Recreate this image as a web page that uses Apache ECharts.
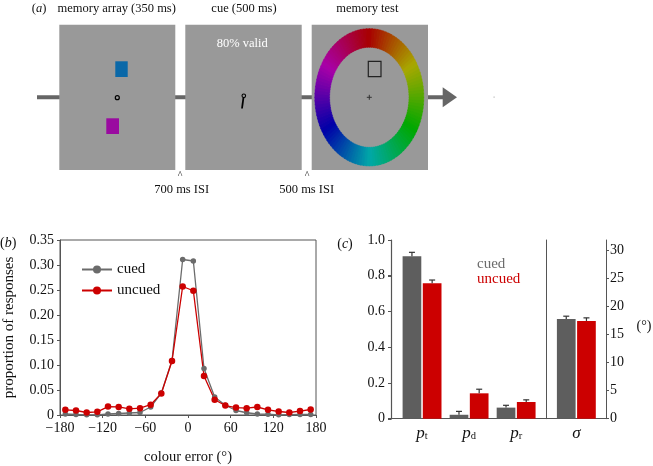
<!DOCTYPE html>
<html><head><meta charset="utf-8">
<script src="https://cdn.jsdelivr.net/npm/echarts@6/dist/echarts.min.js"></script>
<style>html,body{margin:0;padding:0;background:#fff}#c{width:653px;height:466px}</style>
</head><body><div id="c"></div><script>
const FONT = "'Liberation Serif','Times New Roman',serif";

// ---- panel (b) data ----
const binCenters = [-172.5,-157.5,-142.5,-127.5,-112.5,-97.5,-82.5,-67.5,-52.5,-37.5,-22.5,-7.5,
                     7.5,22.5,37.5,52.5,67.5,82.5,97.5,112.5,127.5,142.5,157.5,172.5];
const cuedProp   = [0.002,0.001,0.0003,0.0003,0.002,0.003,0.004,0.005,0.016,0.044,0.109,0.311,
                    0.308,0.093,0.036,0.0195,0.009,0.0045,0.002,0.0015,0.0003,0.0008,0.001,0.001];
const uncuedProp = [0.0103,0.009,0.005,0.0064,0.0168,0.0162,0.0123,0.0137,0.0207,0.043,0.108,0.257,
                    0.2485,0.078,0.0306,0.0189,0.0149,0.0137,0.016,0.0103,0.007,0.005,0.0078,0.011];
const bXTicks = [-180,-120,-60,0,60,120,180];
const bYTicks = [0,0.05,0.1,0.15,0.2,0.25,0.3,0.35];

// ---- panel (c) data ----
const paramSubs = ['t','d','r'];
const cuedParam = [0.909,0.022,0.062];
const cuedParamErr = [0.022,0.019,0.013];
const uncuedParam = [0.758,0.142,0.0935];
const uncuedParamErr = [0.018,0.023,0.012];
const sigmaCats = ['σ'];
const cuedSigma = [17.8];
const cuedSigmaErr = [0.5];
const uncuedSigma = [17.45];
const uncuedSigmaErr = [0.55];
const leftTicks = [0,0.2,0.4,0.6,0.8,1.0];
const rightTicks = [0,5,10,15,20,25,30];

const GRAY = '#6b6b6b', RED = '#cc0000', BARGRAY = '#5e5e5e', AX = '#555';
const BW = 18.7, OFF = 10.1;
const X_MIN_C = -0.66, X_MAX_C = 2.65;

function errRender(off){
  return function(params, api){
    const x = api.value(0), v = api.value(1), e = api.value(2);
    const p0 = api.coord([x, v]); const p1 = api.coord([x, v + e]);
    const cx = p0[0] + off;
    return {type:'group', children:[
      {type:'line', shape:{x1:cx,y1:p0[1],x2:cx,y2:p1[1]}, style:{stroke:'#333',lineWidth:1.2}},
      {type:'line', shape:{x1:cx-3,y1:p1[1],x2:cx+3,y2:p1[1]}, style:{stroke:'#333',lineWidth:1.2}}
    ]};
  };
}

// ---- panel (a) schematic ----
const wheel = [];
const N = 120;
for (let k = 0; k < N; k++) {
  const h = k * 360 / N;
  const a0 = -Math.PI/2 + (h - 0.3) * Math.PI/180;
  const a1 = -Math.PI/2 + (h + 360/N + 0.3) * Math.PI/180;
  const col = 'hsl(' + (h + 180/N) + ',100%,33%)';
  wheel.push({type:'sector', shape:{cx:0,cy:0,r:54.5,r0:39.7,startAngle:a0,endAngle:a1,clockwise:true},
    style:{fill:col, stroke:col, lineWidth:0.4}});
}
const tA = {font:'12.5px ' + FONT, fill:'#111', align:'center', verticalAlign:'middle'};
function txt(text, x, y, extra){ return {type:'text', x:x, y:y, style:Object.assign({text:text}, tA, extra||{})}; }

const graphic = [
  {type:'line', shape:{x1:37,y1:97.3,x2:444,y2:97.3}, style:{stroke:'#666',lineWidth:4}},
  {type:'polygon', shape:{points:[[442.7,87.3],[457,97.3],[442.7,107.3]]}, style:{fill:'#666'}},
  {type:'rect', shape:{x:59.3,y:24.7,width:116,height:145.3}, style:{fill:'#999999'}},
  {type:'rect', shape:{x:185.3,y:24.7,width:116.4,height:145.3}, style:{fill:'#999999'}},
  {type:'rect', shape:{x:311.7,y:24.7,width:116.3,height:145.3}, style:{fill:'#999999'}},
  {type:'rect', shape:{x:115.3,y:61.3,width:12.4,height:15.7}, style:{fill:'#0a68a8'}},
  {type:'rect', shape:{x:106.3,y:118.3,width:12.7,height:15.7}, style:{fill:'#9a0aa0'}},
  {type:'circle', shape:{cx:117.3,cy:97.7,r:2}, style:{fill:'none',stroke:'#000',lineWidth:1.2}},
  {type:'circle', shape:{cx:243.8,cy:95.8,r:1.8}, style:{fill:'none',stroke:'#000',lineWidth:1.1}},
  {type:'line', shape:{x1:243.4,y1:98,x2:242,y2:108.5}, style:{stroke:'#000',lineWidth:1.8}},
  {type:'group', x:369.3, y:97.3, scaleY:1.26, children:wheel},
  {type:'rect', shape:{x:368.3,y:61.3,width:12.7,height:15.3}, style:{fill:'none',stroke:'#222',lineWidth:1.2}},
  {type:'line', shape:{x1:366.8,y1:97.3,x2:371.8,y2:97.3}, style:{stroke:'#333',lineWidth:1}},
  {type:'line', shape:{x1:369.3,y1:94.8,x2:369.3,y2:99.8}, style:{stroke:'#333',lineWidth:1}},
  {type:'rect', shape:{x:493.5,y:96.5,width:1.2,height:1.2}, style:{fill:'#bbb'}},
  txt('({i|a})', 39, 8.5, {rich:{i:{fontStyle:'italic', font:'italic 12.5px ' + FONT}}}),
  txt('memory array (350 ms)', 116.7, 8.5),
  txt('cue (500 ms)', 244, 8.5),
  txt('memory test', 367.3, 8.5),
  txt('80% valid', 242.3, 43.5, {fill:'#fff'}),
  txt('^', 180, 175, {font:'10px ' + FONT}),
  txt('^', 307, 175, {font:'10px ' + FONT}),
  txt('700 ms ISI', 181.7, 190),
  txt('500 ms ISI', 306.7, 190),
  txt('({i|b})', 0, 243.3, {align:'left', font:'14px ' + FONT, rich:{i:{font:'italic 14px ' + FONT}}}),
  txt('({i|c})', 345, 244, {font:'14px ' + FONT, rich:{i:{font:'italic 14px ' + FONT}}}),
  txt('(°)', 644, 326.7, {font:'14px ' + FONT})
];

function axLine(){ return {show:true, onZero:false, lineStyle:{color:AX, width:1}}; }
function axTick(vals){ return {show:true, inside:false, length:3, customValues:vals, lineStyle:{color:AX}}; }
function lbl(extra){ return Object.assign({fontFamily:FONT, fontSize:14, color:'#111'}, extra); }

const option = {
  animation:false,
  backgroundColor:'#fff',
  graphic: graphic,
  legend:[
    {data:['cued','uncued'], left:76, top:257, orient:'vertical', itemWidth:30, itemHeight:10, itemGap:6,
     selectedMode:false, textStyle:{fontFamily:FONT, fontSize:15, color:'#111'}},
    {data:[{name:'cued', textStyle:{color:GRAY}}, {name:'uncued', textStyle:{color:RED}}],
     icon:'none', itemWidth:0, itemHeight:11, itemGap:0, left:467, top:252, orient:'vertical',
     selectedMode:false, textStyle:{fontFamily:FONT, fontSize:15}}
  ],
  grid:[
    {left:60, top:240, width:256, height:179.3, show:true, borderColor:AX, borderWidth:1, backgroundColor:'transparent'},
    {left:391, top:240, width:155.7, height:178.7},
    {left:546.7, top:240, width:59.3, height:178.7}
  ],
  xAxis:[
    {gridIndex:0, type:'value', min:-180, max:180, axisLine:axLine(), axisTick:axTick(bXTicks),
     splitLine:{show:false}, axisLabel:lbl({customValues:bXTicks, margin:6, formatter:v => v < 0 ? '\u2212' + (-v) : String(v)}),
     name:'colour error (°)', nameLocation:'middle', nameGap:35, nameTextStyle:{fontFamily:FONT, fontSize:14.5, color:'#111'}},
    {gridIndex:1, type:'value', min:X_MIN_C, max:X_MAX_C, axisLine:axLine(), axisTick:{show:false}, splitLine:{show:false},
     axisLabel:{customValues:[0,1,2], margin:4, formatter:v => '{i|p}{s|' + paramSubs[Math.round(v)] + '}',
       rich:{i:{fontFamily:FONT, fontStyle:'italic', fontSize:17, color:'#111', verticalAlign:'bottom'},
             s:{fontFamily:FONT, fontSize:10.5, color:'#111', padding:[8,0,0,0], verticalAlign:'bottom'}}}},
    {gridIndex:2, type:'category', data:sigmaCats, axisLine:axLine(), axisTick:{show:false},
     axisLabel:{margin:6, fontFamily:FONT, fontStyle:'italic', fontSize:17, color:'#111'}}
  ],
  yAxis:[
    {gridIndex:0, type:'value', min:0, max:0.35, axisLine:axLine(), axisTick:axTick(bYTicks), splitLine:{show:false},
     axisLabel:lbl({customValues:bYTicks, margin:6, formatter:v => v === 0 ? '0' : v.toFixed(2)}),
     name:'proportion of responses', nameLocation:'middle', nameGap:43, nameTextStyle:{fontFamily:FONT, fontSize:15, color:'#111'}},
    {gridIndex:1, type:'value', position:'left', min:0, max:1, axisLine:axLine(), axisTick:axTick(leftTicks), splitLine:{show:false},
     axisLabel:lbl({customValues:leftTicks, margin:6, formatter:v => v === 0 ? '0' : v.toFixed(1)})},
    {gridIndex:2, type:'value', position:'right', min:0, max:31.9, axisLine:axLine(),
     axisTick:axTick(rightTicks), splitLine:{show:false},
     axisLabel:lbl({customValues:rightTicks, margin:4})},
    {gridIndex:2, type:'value', position:'left', min:0, max:1, axisLine:axLine(), axisTick:{show:false},
     axisLabel:{show:false}, splitLine:{show:false}}
  ],
  series:[
    {name:'cued', type:'line', xAxisIndex:0, yAxisIndex:0, data:binCenters.map((x,i)=>[x, cuedProp[i]]),
     symbol:'circle', symbolSize:5.5, itemStyle:{color:GRAY}, lineStyle:{color:GRAY, width:1.3}},
    {name:'uncued', type:'line', xAxisIndex:0, yAxisIndex:0, data:binCenters.map((x,i)=>[x, uncuedProp[i]]),
     symbol:'circle', symbolSize:6.5, itemStyle:{color:RED}, lineStyle:{color:RED, width:1.3}},
    {name:'cued', type:'bar', xAxisIndex:1, yAxisIndex:1, data:paramSubs.map((c,i)=>[i, cuedParam[i]]),
     barWidth:BW, barGap:'8%', itemStyle:{color:BARGRAY}},
    {name:'uncued', type:'bar', xAxisIndex:1, yAxisIndex:1, data:paramSubs.map((c,i)=>[i, uncuedParam[i]]),
     barWidth:BW, barGap:'8%', itemStyle:{color:RED}},
    {name:'cued', type:'bar', xAxisIndex:2, yAxisIndex:2, data:cuedSigma,
     barWidth:BW, barGap:'8%', itemStyle:{color:BARGRAY}},
    {name:'uncued', type:'bar', xAxisIndex:2, yAxisIndex:2, data:uncuedSigma,
     barWidth:BW, barGap:'8%', itemStyle:{color:RED}},
    {type:'custom', xAxisIndex:1, yAxisIndex:1, renderItem:errRender(-OFF), z:5,
     data:paramSubs.map((c,i)=>[i, cuedParam[i], cuedParamErr[i]])},
    {type:'custom', xAxisIndex:1, yAxisIndex:1, renderItem:errRender(OFF), z:5,
     data:paramSubs.map((c,i)=>[i, uncuedParam[i], uncuedParamErr[i]])},
    {type:'custom', xAxisIndex:2, yAxisIndex:2, renderItem:errRender(-OFF), z:5,
     data:sigmaCats.map((c,i)=>[i, cuedSigma[i], cuedSigmaErr[i]])},
    {type:'custom', xAxisIndex:2, yAxisIndex:2, renderItem:errRender(OFF), z:5,
     data:sigmaCats.map((c,i)=>[i, uncuedSigma[i], uncuedSigmaErr[i]])}
  ]
};
const chart = echarts.init(document.getElementById('c'), null, {renderer:'canvas'});
chart.setOption(option);

// reinforce the left axis line and ticks of panel (c), positioned through the axis scales
const pBot = chart.convertToPixel({gridIndex:1}, [X_MIN_C, 0]);
const pTop = chart.convertToPixel({gridIndex:1}, [X_MIN_C, 1]);
const ax = Math.round(pBot[0]) + 0.5;
const extra = [{type:'line', z:200, shape:{x1:ax, y1:pTop[1], x2:ax, y2:pBot[1]}, style:{stroke:AX, lineWidth:1.2}}];
leftTicks.forEach(function(v){
  const p = chart.convertToPixel({gridIndex:1}, [X_MIN_C, v]);
  const y = Math.round(p[1]) + 0.5;
  extra.push({type:'line', z:200, shape:{x1:ax - 3.5, y1:y, x2:ax, y2:y}, style:{stroke:AX, lineWidth:1}});
});
chart.setOption({graphic: graphic.concat(extra)});
</script></body></html>
